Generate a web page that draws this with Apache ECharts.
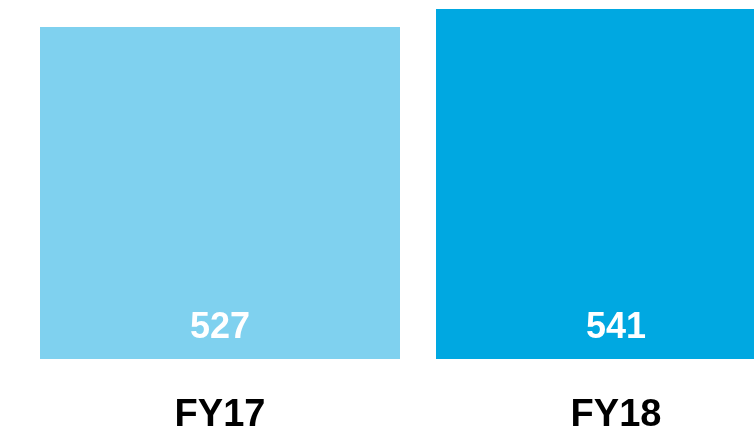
<!DOCTYPE html>
<html>
<head>
<meta charset="utf-8">
<script src="https://cdn.jsdelivr.net/npm/echarts@6/dist/echarts.min.js"></script>
<style>
  html, body { margin: 0; padding: 0; background: #ffffff; }
  #chart { width: 754px; height: 432px; }
</style>
</head>
<body>
<div id="chart"></div>
<script>
// Fiscal years and totals
const categories = ['FY17', 'FY18'];
const values = [527, 541];
const barColors = ['#7FD1EF', '#00A8E1'];

const chart = echarts.init(document.getElementById('chart'), null, { renderer: 'canvas' });

chart.setOption({
  backgroundColor: '#ffffff',
  animation: false,
  // plot area runs past the right edge, so the second bar is cut off
  grid: { left: 22, width: 792, top: 9, height: 350, containLabel: false, outerBoundsMode: 'none' },
  xAxis: {
    type: 'category',
    data: categories,
    axisLine: { show: false },
    axisTick: { show: false },
    axisLabel: {
      color: '#000000',
      fontFamily: 'Liberation Sans, Arial, sans-serif',
      fontWeight: 'bold',
      fontSize: 38,
      margin: 38
    }
  },
  yAxis: {
    type: 'value',
    min: 269,
    max: 541,
    show: false,
    splitLine: { show: false }
  },
  series: [{
    type: 'bar',
    barWidth: 360,
    data: values.map((v, i) => ({ value: v, itemStyle: { color: barColors[i] } })),
    label: {
      show: true,
      position: 'insideBottom',
      distance: 13,
      color: '#ffffff',
      fontFamily: 'Liberation Sans, Arial, sans-serif',
      fontWeight: 'bold',
      fontSize: 36
    }
  }]
});
</script>
</body>
</html>
